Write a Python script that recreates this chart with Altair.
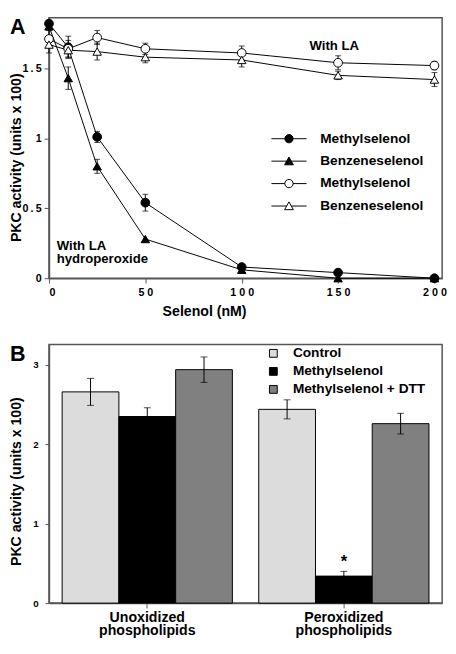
import altair as alt
import pandas as pd

FONT = "Liberation Sans"

# ---------------- Panel A data ----------------
conc = [0, 10, 25, 50, 100, 150, 200]
methyl_hp = [1.82, 1.65, 1.01, 0.54, 0.08, 0.04, 0.00]
methyl_hp_err = [0.02, 0.08, 0.04, 0.06, 0.01, 0.01, 0.0]
benzene_hp = [1.80, 1.43, 0.80, 0.28, 0.06, 0.00, 0.00]
benzene_hp_err = [0.02, 0.08, 0.05, 0.01, 0.01, 0.0, 0.0]
methyl_la = [1.71, 1.64, 1.72, 1.64, 1.61, 1.54, 1.52]
methyl_la_err = [0.06, 0.06, 0.05, 0.04, 0.05, 0.05, 0.03]
benzene_la = [1.67, 1.63, 1.62, 1.58, 1.56, 1.45, 1.42]
benzene_la_err = [0.06, 0.05, 0.06, 0.04, 0.05, 0.03, 0.05]

series_keys = ["Methylselenol_HP", "Benzeneselenol_HP", "Methylselenol_LA", "Benzeneselenol_LA"]
series_vals = [methyl_hp, benzene_hp, methyl_la, benzene_la]
series_errs = [methyl_hp_err, benzene_hp_err, methyl_la_err, benzene_la_err]

rows = []
for key, vals, errs in zip(series_keys, series_vals, series_errs):
    for c, v, e in zip(conc, vals, errs):
        rows.append({"conc": c, "value": v, "err": e, "lo": v - e, "hi": v + e, "series": key})
dfA = pd.DataFrame(rows)

# ---------------- Panel B data ----------------
groups = ["Unoxidized|phospholipids", "Peroxidized|phospholipids"]
treatments = ["Control", "Methylselenol", "Methylselenol + DTT"]
treat_colors = ["#dcdcdc", "#000000", "#808080"]
unox_vals = [2.66, 2.35, 2.94]
unox_errs = [0.17, 0.11, 0.16]
perox_vals = [2.44, 0.34, 2.26]
perox_errs = [0.12, 0.06, 0.13]
perox_sig = ["", "*", ""]

rowsB = []
for g, vals, errs, sigs in [(groups[0], unox_vals, unox_errs, ["", "", ""]),
                            (groups[1], perox_vals, perox_errs, perox_sig)]:
    for t, v, e, s in zip(treatments, vals, errs, sigs):
        rowsB.append({"group": g, "treat": t, "value": v, "lo": v - e, "hi": v + e, "sig": s})
dfB = pd.DataFrame(rowsB)

LEFT = -40  # left edge of axis titles / panel letters, relative to plot area

# ---------------- Panel A chart ----------------
WA, HA = 403, 267
xA = alt.X("conc:Q", scale=alt.Scale(domain=[0, 204], nice=False, zero=False),
           axis=alt.Axis(values=[0, 50, 100, 150, 200], title="Selenol (nM)", format="d",
                         labelExpr="join(split(datum.label, ''), ' ')",
                         labelFontSize=11, tickSize=5, labelPadding=4,
                         titleFontSize=14.5, titleX=159, titleY=34, titleBaseline="middle"))
yA = alt.Y("value:Q", scale=alt.Scale(domain=[0, 1.862], nice=False),
           axis=alt.Axis(values=[0, 0.5, 1, 1.5], title="PKC activity (units x 100)",
                         format=".1~f",
                         labelExpr="join(split(datum.label, ''), '\u2009')",
                         labelFontSize=11, tickSize=5, labelPadding=3,
                         titleFontSize=14.5, titleX=LEFT, titleY=143, titleBaseline="top"))

baseA = alt.Chart(dfA)
linesA = baseA.mark_line(color="black", strokeWidth=1).encode(x=xA, y=yA, detail="series:N")
errA = baseA.transform_filter("datum.err > 0.015").mark_rule(color="black", strokeWidth=1).encode(
    x=xA, y="lo:Q", y2="hi:Q")
capHiA = baseA.transform_filter("datum.err > 0.015").mark_tick(
    orient="horizontal", size=6, thickness=1, color="black").encode(x=xA, y="hi:Q")
capLoA = baseA.transform_filter("datum.err > 0.015").mark_tick(
    orient="horizontal", size=6, thickness=1, color="black").encode(x=xA, y="lo:Q")

shapes = {"Methylselenol_HP": ("circle", "black", 80),
          "Benzeneselenol_HP": ("triangle-up", "black", 75),
          "Methylselenol_LA": ("circle", "white", 80),
          "Benzeneselenol_LA": ("triangle-up", "white", 75)}
pointLayers = []
for key in series_keys:
    shp, fill, size = shapes[key]
    pointLayers.append(
        baseA.transform_filter(alt.datum.series == key).mark_point(
            shape=shp, filled=True, fill=fill, stroke="black", strokeWidth=1,
            size=size, opacity=1).encode(x=xA, y=yA))

circle_path = ("M-3.6,0H-0.85 M0.85,0H3.6 "
               "M0.85,0A0.85,0.85 0 1,1 -0.85,0A0.85,0.85 0 1,1 0.85,0Z")
tri_path = "M-3.6,0H-0.48 M0.48,0H3.6 M0,-0.85L0.9,0.75L-0.9,0.75Z"
legA = alt.Legend(orient="none", legendX=239, legendY=117, title=None,
                  symbolSize=100, labelOffset=25, rowPadding=9, padding=0,
                  labelFontSize=14, labelFont=FONT, labelFontWeight="bold",
                  symbolStrokeWidth=1, symbolOpacity=1,
                  labelExpr="split(datum.label, '_')[0]")
legendLayerA = baseA.transform_filter("false").mark_point(
    filled=True, strokeWidth=1).encode(
    x=xA, y=yA,
    shape=alt.Shape("series:N", scale=alt.Scale(domain=series_keys,
                    range=[circle_path, tri_path, circle_path, tri_path]), legend=legA),
    fill=alt.Fill("series:N", scale=alt.Scale(domain=series_keys,
                  range=["black", "black", "white", "white"]), legend=legA),
    stroke=alt.Stroke("series:N", scale=alt.Scale(domain=series_keys,
                      range=["black", "black", "black", "black"]), legend=legA))

annA1 = alt.Chart(pd.DataFrame({"t": ["With LA"]})).mark_text(
    font=FONT, fontWeight="bold", fontSize=13.5, align="center", baseline="middle").encode(
    x=alt.datum(148), y=alt.datum(1.66), text="t:N")
annA2 = alt.Chart(pd.DataFrame({"t": ["x"]})).mark_text(
    text=["With LA", "hydroperoxide"], lineHeight=13, font=FONT, fontWeight="bold",
    fontSize=13.5, align="left", baseline="middle").encode(
    x=alt.datum(4), y=alt.datum(0.228))
letterA = alt.Chart(pd.DataFrame({"t": ["A"]})).mark_text(
    font=FONT, fontWeight="bold", fontSize=22, align="left", baseline="top").encode(
    x=alt.value(LEFT), y=alt.value(0), text="t:N")

chartA = alt.layer(linesA, errA, capHiA, capLoA, *pointLayers, legendLayerA,
                   annA1, annA2, letterA).properties(width=WA, height=HA)

# ---------------- Panel B chart ----------------
WB, HB = 403, 265
xB = alt.X("group:N", sort=groups,
           scale=alt.Scale(paddingInner=0.134, paddingOuter=0.067),
           axis=alt.Axis(title=None, labelAngle=0, labelExpr="split(datum.label, '|')",
                         labelFontSize=14.5, labelLineHeight=13, tickSize=5, labelPadding=3))
xoB = alt.XOffset("treat:N", sort=treatments,
                  scale=alt.Scale(domain=treatments, paddingInner=0, paddingOuter=0))
yB = alt.Y("value:Q", scale=alt.Scale(domain=[0, 3.256], nice=False),
           axis=alt.Axis(values=[0, 1, 2, 3], title="PKC activity (units x 100)", format="d",
                         labelFontSize=10, tickSize=4, labelPadding=7,
                         titleFontSize=14.5, titleX=LEFT, titleY=140, titleBaseline="top"))
legB = alt.Legend(orient="none", legendX=223, legendY=2, title=None, symbolType="square",
                  symbolSize=64, labelOffset=13, rowPadding=4.5, padding=0,
                  labelFontSize=14, labelFont=FONT, labelFontWeight="bold",
                  symbolStrokeColor="black", symbolStrokeWidth=1)
baseB = alt.Chart(dfB)
barsB = baseB.mark_bar(stroke="black", strokeWidth=1).encode(
    x=xB, xOffset=xoB, y=yB,
    fill=alt.Fill("treat:N", scale=alt.Scale(domain=treatments, range=treat_colors), legend=legB))
errB = baseB.mark_rule(color="black", strokeWidth=1).encode(x=xB, xOffset=xoB, y="lo:Q", y2="hi:Q")
capHiB = baseB.mark_tick(orient="horizontal", size=7, thickness=1, color="black").encode(
    x=xB, xOffset=xoB, y="hi:Q")
capLoB = baseB.mark_tick(orient="horizontal", size=7, thickness=1, color="black").encode(
    x=xB, xOffset=xoB, y="lo:Q")
sigB = baseB.transform_filter("datum.sig != ''").mark_text(
    font=FONT, fontWeight="bold", fontSize=17, baseline="middle", dy=-9).encode(
    x=xB, xOffset=xoB, y="hi:Q", text="sig:N")
letterB = alt.Chart(pd.DataFrame({"t": ["B"]})).mark_text(
    font=FONT, fontWeight="bold", fontSize=22, align="left", baseline="top").encode(
    x=alt.value(LEFT), y=alt.value(0), text="t:N")

chartB = alt.layer(barsB, errB, capHiB, capLoB, sigB, letterB).properties(width=WB, height=HB)

chart = alt.vconcat(chartA, chartB, spacing=24, padding=0).resolve_scale(
    fill="independent", shape="independent", stroke="independent",
    x="independent", y="independent"
).resolve_legend(fill="independent", shape="independent", stroke="independent").configure_view(
    stroke="#555", strokeWidth=1.5
).configure_axis(
    grid=False, domainColor="#555", domainWidth=1.5, tickColor="#555",
    labelFont=FONT, titleFont=FONT, labelFontWeight="bold", titleFontWeight="bold",
    labelColor="black", titleColor="black"
)

chart.save("out.html", embed_options={"renderer": "svg", "actions": False})
